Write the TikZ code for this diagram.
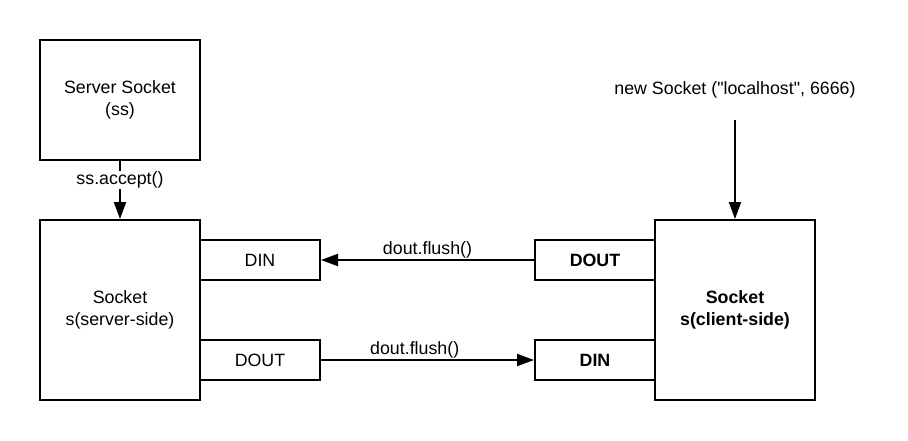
\documentclass[tikz,border=0pt]{standalone}
\usepackage{fontspec}
\setmainfont{Liberation Sans}
\usetikzlibrary{arrows.meta}
\begin{document}
\begin{tikzpicture}[x=1pt,y=-1pt,
  every node/.style={font=\fontsize{17.8}{22}\selectfont},
  box/.style={draw=black,line width=2pt,minimum width=160pt,inner sep=0pt,align=center},
  port/.style={draw=black,line width=2pt,minimum width=120pt,minimum height=40pt,inner sep=0pt},
  conn/.style={line width=2pt,-{Triangle[length=17pt,width=12pt]}},
  lbl/.style={inner sep=1pt}]
\useasboundingbox (0,0) rectangle (908,440);
\node[box,minimum height=120pt] (ss) at (120,100) {Server Socket\\(ss)};
\node[box,minimum height=180pt] (srv) at (120,310) {Socket\\s(server-side)};
\node[box,minimum height=180pt,font=\fontsize{17.8}{22}\selectfont\bfseries] (cli) at (735,310) {Socket\\s(client-side)};
\node[port] (sdin) at (260,260) {DIN};
\node[port] (sdout) at (260,360) {DOUT};
\node[port,font=\fontsize{17.8}{22}\selectfont\bfseries] (cdout) at (595,260) {DOUT};
\node[port,font=\fontsize{17.8}{22}\selectfont\bfseries] (cdin) at (595,360) {DIN};
\node (new) at (735,90) {new Socket (\textquotedbl localhost\textquotedbl, 6666)};
\coordinate (newend) at (735,120);
\draw[conn] (ss.south) -- node[pos=0.33,fill=white,lbl] {ss.accept()} (srv.north);
\draw[conn] (newend) -- (cli.north);
\draw[conn] (cdout.west) -- node[pos=0.5,above,inner sep=1pt] {dout.flush()} (sdin.east);
\draw[conn] (sdout.east) -- node[pos=0.44,above,inner sep=1pt] {dout.flush()} (cdin.west);
\end{tikzpicture}
\end{document}
